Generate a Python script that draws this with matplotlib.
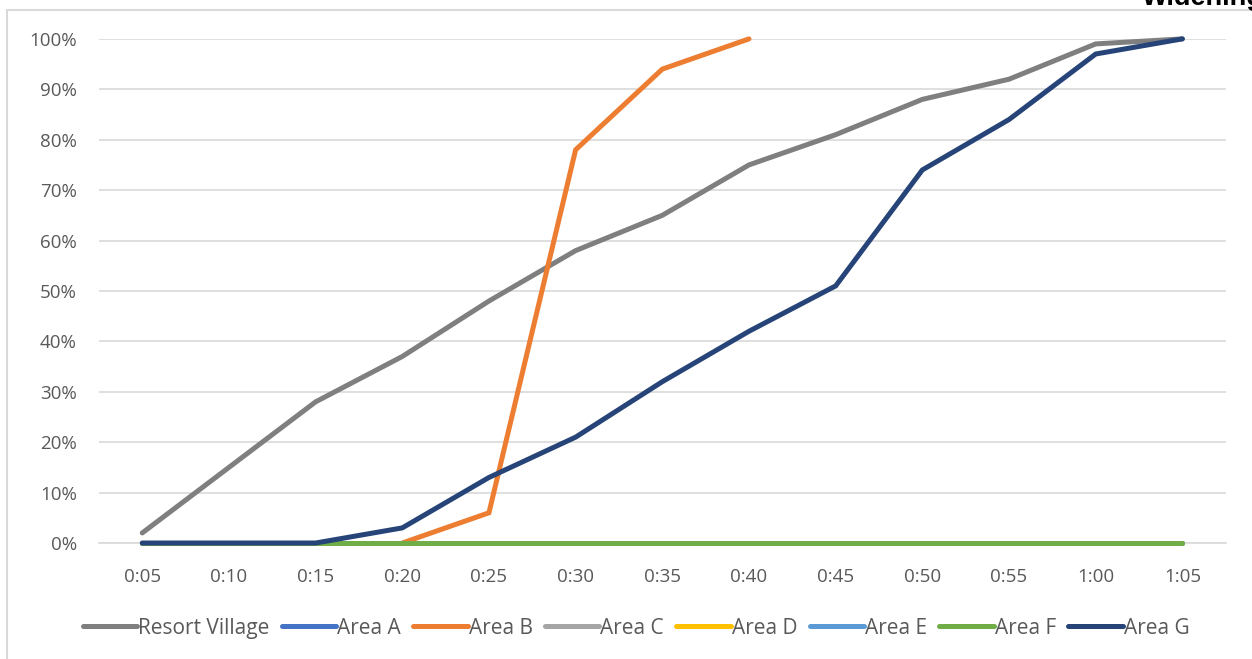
import matplotlib
matplotlib.use("Agg")
import matplotlib.pyplot as plt
from matplotlib.patches import Rectangle
from matplotlib.ticker import PercentFormatter
import numpy as np

plt.rcParams['font.family'] = ['Open Sans', 'DejaVu Sans']

times = ["0:05", "0:10", "0:15", "0:20", "0:25", "0:30", "0:35",
         "0:40", "0:45", "0:50", "0:55", "1:00", "1:05"]

# percent of population evacuated at each time step
resort_village = [2, 15, 28, 37, 48, 58, 65, 75, 81, 88, 92, 99, 100]
area_a = [0] * 13
area_b = [None, None, None, 0, 6, 78, 94, 100, None, None, None, None, None]
area_c = [0] * 13
area_d = [0] * 13
area_e = [0] * 13
area_f = [0] * 13
area_g = [0, 0, 0, 3, 13, 21, 32, 42, 51, 74, 84, 97, 100]

series = [
    ("Resort Village", resort_village, "#7f7f7f"),
    ("Area A", area_a, "#4472c4"),
    ("Area B", area_b, "#ed7d31"),
    ("Area C", area_c, "#a5a5a5"),
    ("Area D", area_d, "#ffc000"),
    ("Area E", area_e, "#5b9bd5"),
    ("Area F", area_f, "#70ad47"),
    ("Area G", area_g, "#264478"),
]

fig = plt.figure(figsize=(12.52, 6.59), dpi=100)
ax = fig.add_axes([0.079, 0.176, 0.900, 0.765])

# outer chart frame (left and top edges visible)
fig.patches.append(Rectangle((7 / 1252, -0.1), 1.2, (659 - 10) / 659 + 0.1,
                             transform=fig.transFigure, fill=False,
                             edgecolor="#d9d9d9", linewidth=1.5))
fig.text(1142 / 1252, 1 - 5 / 659, "Widening", fontsize=19.5, color="black",
         fontweight="bold", ha="left", va="baseline", family="Liberation Sans")

x = np.arange(len(times))
for name, vals, color in series:
    y = np.array([np.nan if v is None else v for v in vals], dtype=float) / 100
    ax.plot(x, y, color=color, linewidth=3.6, label=name, clip_on=False,
            zorder=3, solid_capstyle="round", solid_joinstyle="miter")

ax.set_xlim(-0.5, len(times) - 0.5)
ax.set_ylim(0, 1.0)
ax.set_yticks(np.arange(0, 1.01, 0.1))
ax.yaxis.set_major_formatter(PercentFormatter(1.0, decimals=0))
ax.set_xticks(x)
ax.set_xticklabels(times)
ax.grid(axis="y", color="#d9d9d9", linewidth=1.2)
ax.set_axisbelow(True)
for s in ["top", "right", "left"]:
    ax.spines[s].set_visible(False)
ax.spines["bottom"].set_color("#d9d9d9")
ax.spines["bottom"].set_linewidth(1.2)
ax.spines["bottom"].set_zorder(1)
ax.tick_params(axis="both", length=0, labelsize=13.5, colors="#595959")
ax.tick_params(axis="y", pad=16)
ax.tick_params(axis="x", pad=18)

leg = fig.legend(loc="center", bbox_to_anchor=(0.508, 0.047), ncol=8,
                 frameon=False, fontsize=15, handlelength=2.6,
                 handletextpad=0.05, columnspacing=0.6)
for t in leg.get_texts():
    t.set_color("#595959")

fig.savefig("out.png", dpi=100)
